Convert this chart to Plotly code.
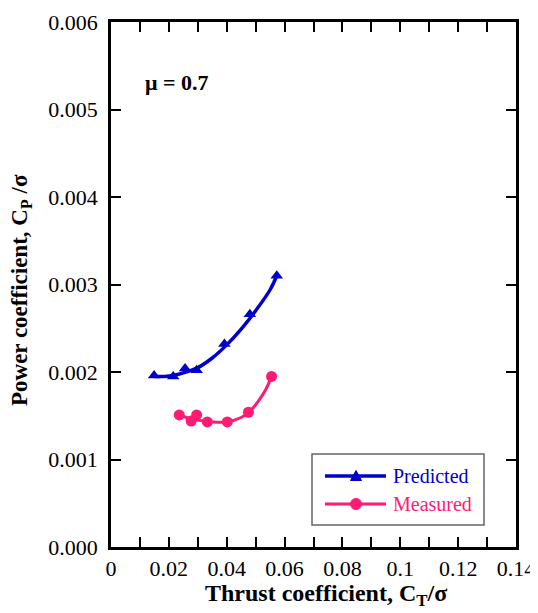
import plotly.graph_objects as go

# Predicted (triangles)
pred_x = [0.0149, 0.0215, 0.0256, 0.0296, 0.0392, 0.0480, 0.0573]
pred_y = [0.00196, 0.00195, 0.00204, 0.00202, 0.00232, 0.00266, 0.00310]
# Predicted fitted curve
pred_curve_x = [0.0150, 0.0185, 0.0215, 0.0250, 0.0300, 0.0350, 0.0400, 0.0450, 0.0500, 0.0550, 0.0573]
pred_curve_y = [0.00195, 0.00195, 0.00196, 0.00199, 0.00205, 0.00216, 0.00231, 0.00249, 0.00270, 0.00294, 0.00310]

# Measured (circles)
meas_x = [0.0236, 0.0277, 0.0296, 0.0333, 0.0402, 0.0475, 0.0555]
meas_y = [0.00151, 0.00144, 0.00151, 0.00143, 0.00143, 0.00154, 0.00195]
# Measured fitted curve
meas_curve_x = [0.0236, 0.0260, 0.0300, 0.0350, 0.0400, 0.0450, 0.0480, 0.0510, 0.0535, 0.0555]
meas_curve_y = [0.00152, 0.00148, 0.00145, 0.00143, 0.00143, 0.00148, 0.00155, 0.00167, 0.00180, 0.00195]

x_tickvals = [0, 0.02, 0.04, 0.06, 0.08, 0.1, 0.12, 0.14]
x_ticktext = ["0", "0.02", "0.04", "0.06", "0.08", "0.1", "0.12", "0.14"]
y_tickvals = [0, 0.001, 0.002, 0.003, 0.004, 0.005, 0.006]
y_ticktext = ["0.000", "0.001", "0.002", "0.003", "0.004", "0.005", "0.006"]

series_names = ["Predicted", "Measured"]
x_title = "<b>Thrust coefficient, C<sub>T</sub>/σ</b>"
y_title = "<b>Power coefficient, C<sub>P</sub> /σ</b>"

BLUE = "#0000C8"
PINK = "#FF1A73"
FONT = "Liberation Serif, Times New Roman, serif"

# page body has an 8px margin; compensate so the plot lands where the reference has it
OFF = 8
W, H = 538 - OFF, 613 - OFF
ML, MR, MT, MB = 111 - OFF, 22, 22 - OFF, 66
PW, PH = W - ML - MR, H - MT - MB


def px(x):
    # reference-window pixel -> paper
    return (x - OFF - ML) / PW


def py(y):
    return (H - MB - (y - OFF)) / PH


fig = go.Figure()

fig.add_trace(go.Scatter(x=pred_curve_x, y=pred_curve_y, mode="lines",
                         line=dict(color=BLUE, width=3.5, shape="spline"),
                         showlegend=False, hoverinfo="skip"))
fig.add_trace(go.Scatter(x=pred_x, y=pred_y, mode="markers", name=series_names[0],
                         marker=dict(symbol="triangle-up", size=11, color=BLUE), showlegend=False))
fig.add_trace(go.Scatter(x=meas_curve_x, y=meas_curve_y, mode="lines",
                         line=dict(color=PINK, width=3, shape="spline"),
                         showlegend=False, hoverinfo="skip"))
fig.add_trace(go.Scatter(x=meas_x, y=meas_y, mode="markers", name=series_names[1],
                         marker=dict(symbol="circle", size=11, color=PINK), showlegend=False))

fig.add_annotation(x=0.0110, y=0.00531, xref="x", yref="y", text="<b>μ = 0.7</b>", showarrow=False,
                   xanchor="left", yanchor="middle", font=dict(family=FONT, size=22, color="black"))

# axis titles placed explicitly
fig.add_annotation(x=px(326), y=py(595), xref="paper", yref="paper", text=x_title, showarrow=False,
                   xanchor="center", yanchor="middle", font=dict(family=FONT, size=24, color="black"))
fig.add_annotation(x=px(21), y=py(290), xref="paper", yref="paper", text=y_title, showarrow=False,
                   textangle=-90, xanchor="center", yanchor="middle",
                   font=dict(family=FONT, size=23, color="black"))

# manual legend (box, line samples, symbols, labels)
shapes = [
    dict(type="rect", xref="paper", yref="paper", x0=px(312), x1=px(484), y0=py(525), y1=py(454),
         line=dict(color="#666666", width=1.5), fillcolor="white", layer="above"),
    dict(type="line", xref="paper", yref="paper", x0=px(325), x1=px(386), y0=py(476), y1=py(476),
         line=dict(color=BLUE, width=3.5), layer="above"),
    dict(type="line", xref="paper", yref="paper", x0=px(325), x1=px(386), y0=py(504), y1=py(504),
         line=dict(color=PINK, width=3), layer="above"),
    dict(type="path", xref="paper", yref="paper",
         path=f"M {px(350.5)} {py(480.5)} L {px(361.5)} {py(480.5)} L {px(356)} {py(470.5)} Z",
         fillcolor=BLUE, line=dict(color=BLUE, width=1), layer="above"),
    dict(type="circle", xref="paper", yref="paper", x0=px(350.5), x1=px(361.5), y0=py(509.5), y1=py(498.5),
         fillcolor=PINK, line=dict(color=PINK, width=1), layer="above"),
]
fig.update_layout(shapes=shapes)
for name, color, yy in [(series_names[0], BLUE, 476), (series_names[1], PINK, 504)]:
    fig.add_annotation(x=px(391), y=py(yy), xref="paper", yref="paper", text=name, showarrow=False,
                       xanchor="left", yanchor="middle", font=dict(family=FONT, size=20, color=color))

axis_common = dict(showgrid=False, zeroline=False, showline=True, linecolor="black", linewidth=2.5,
                   mirror="ticks", ticks="inside", ticklen=10, tickwidth=2, tickcolor="black",
                   automargin=False, tickfont=dict(family=FONT, size=22, color="black"))

fig.update_xaxes(range=[0, 0.14], tickvals=x_tickvals, ticktext=x_ticktext,
                 minor=dict(dtick=0.01, tick0=0, ticks="inside", ticklen=10, tickwidth=2, tickcolor="black"),
                 ticklabelstandoff=0, **axis_common)
fig.update_yaxes(range=[0, 0.006], tickvals=y_tickvals, ticktext=y_ticktext,
                 ticklabelstandoff=6, **axis_common)

fig.update_layout(width=W, height=H, margin=dict(l=ML, r=MR, t=MT, b=MB),
                  plot_bgcolor="white", paper_bgcolor="white", showlegend=False)

fig.write_html("out.html")
